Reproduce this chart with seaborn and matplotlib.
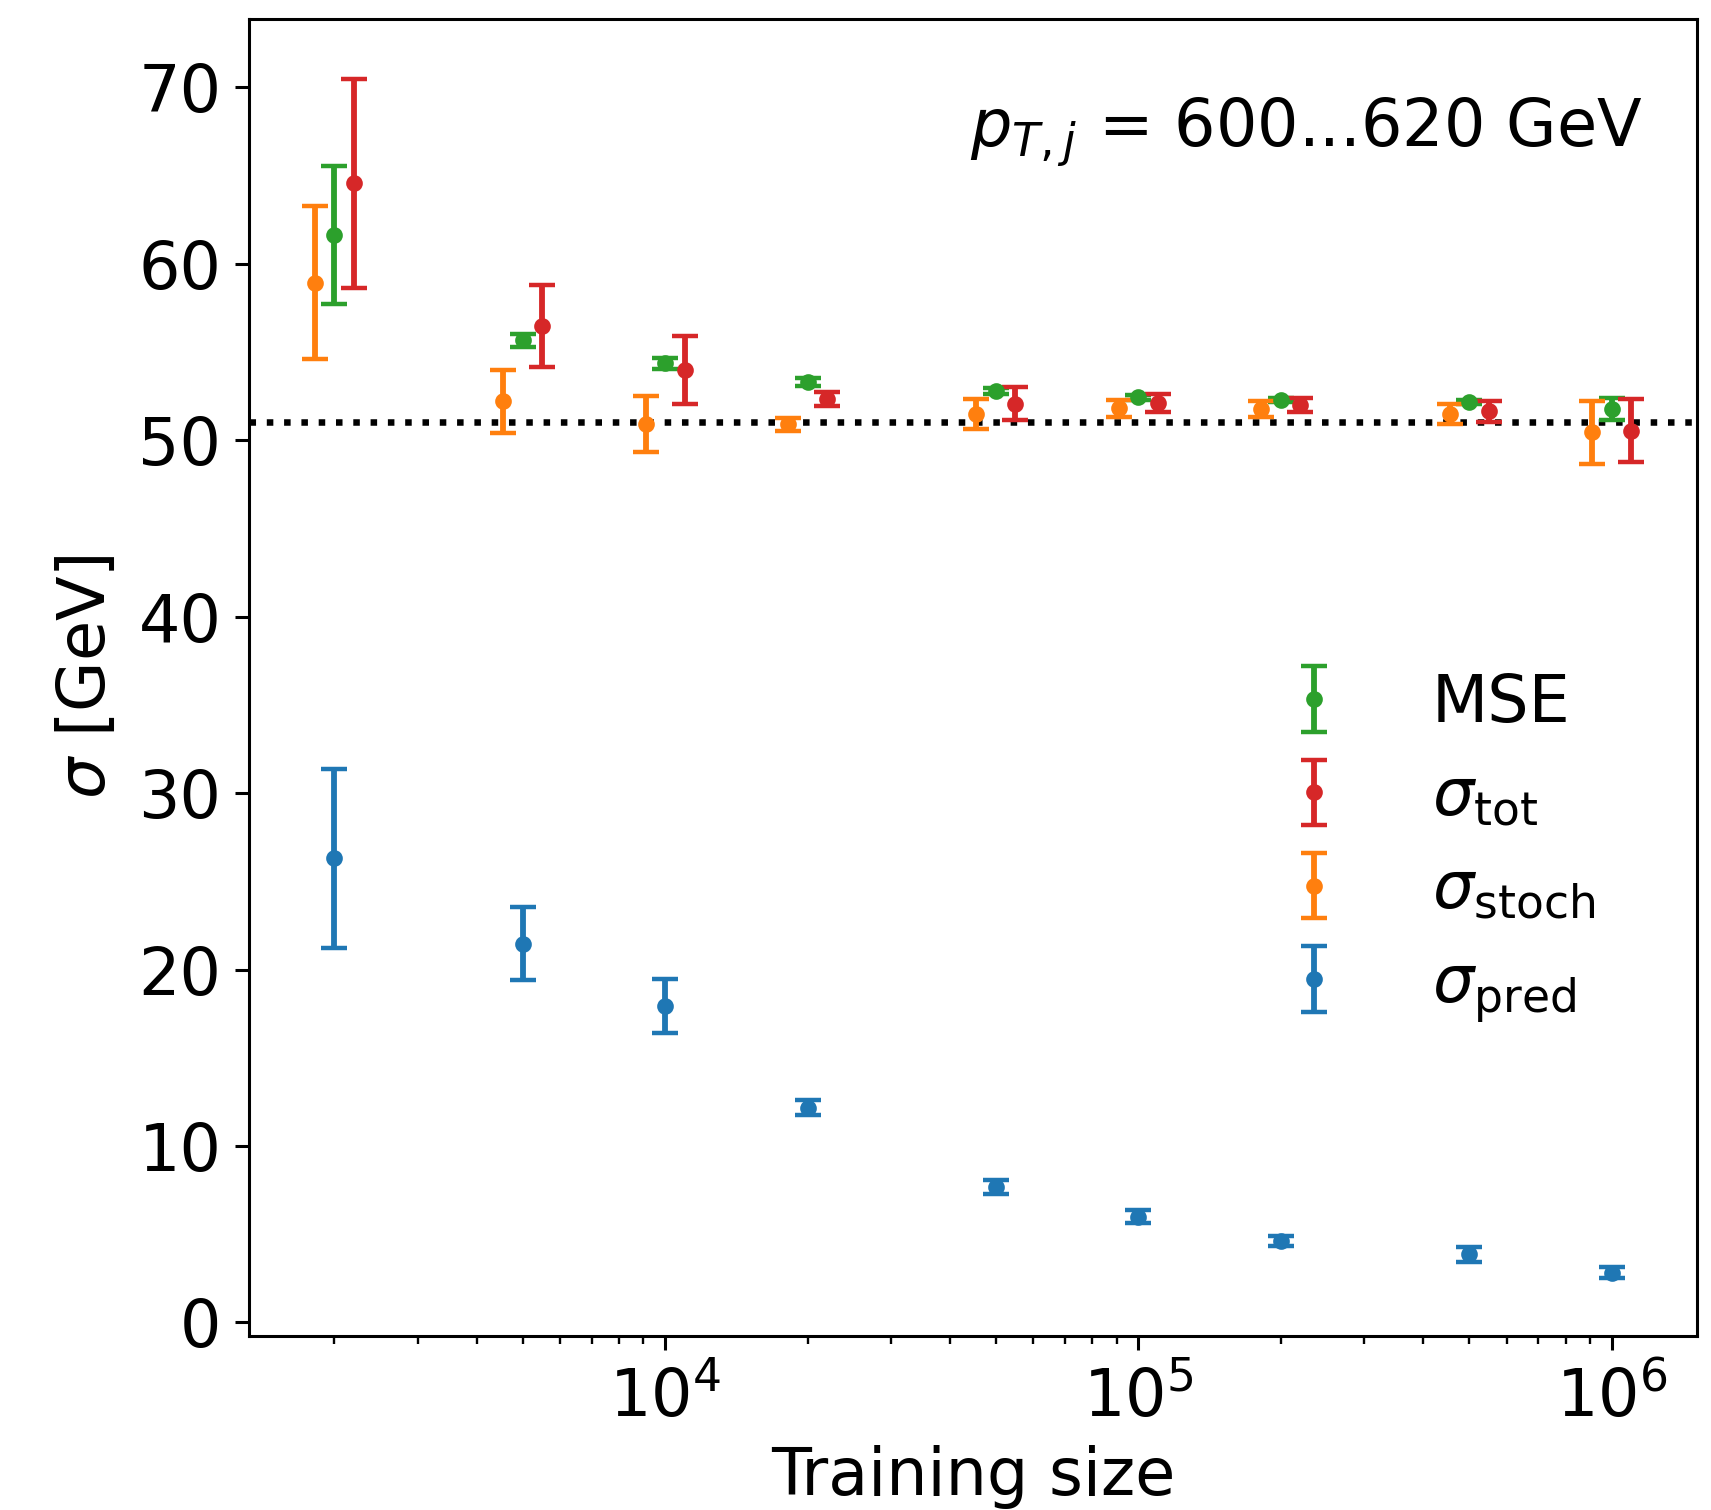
import numpy as np
import matplotlib
matplotlib.use("Agg")
import matplotlib.pyplot as plt
import seaborn as sns

# Training-set sizes
sizes = [2000, 5000, 10000, 20000, 50000, 100000, 200000, 500000, 1000000]

# Resolution estimates [GeV] with their uncertainties
mse = [61.65, 55.66, 54.35, 53.30, 52.78, 52.44, 52.30, 52.17, 51.78]
mse_err = [3.90, 0.35, 0.33, 0.20, 0.18, 0.15, 0.12, 0.12, 0.64]

sig_tot = [64.56, 56.46, 53.96, 52.33, 52.07, 52.12, 52.00, 51.65, 50.55]
sig_tot_err = [5.92, 2.33, 1.92, 0.38, 0.92, 0.52, 0.40, 0.60, 1.78]

sig_stoch = [58.94, 52.21, 50.91, 50.90, 51.48, 51.80, 51.78, 51.50, 50.45]
sig_stoch_err = [4.35, 1.78, 1.57, 0.36, 0.87, 0.50, 0.44, 0.58, 1.80]

sig_pred = [26.31, 21.47, 17.95, 12.16, 7.68, 6.00, 4.62, 3.86, 2.82]
sig_pred_err = [5.07, 2.05, 1.54, 0.43, 0.40, 0.38, 0.28, 0.42, 0.31]

reference_level = 51.05
labels = ["MSE", r"$\sigma_\mathrm{tot}$", r"$\sigma_\mathrm{stoch}$", r"$\sigma_\mathrm{pred}$"]

sns.set_style("ticks")
plt.rcParams.update({
    "font.family": ["DejaVu Sans"],
    "mathtext.fontset": "dejavusans",
    "font.size": 23.5,
    "text.color": "black",
    "axes.labelcolor": "black",
    "axes.linewidth": 1.1,
    "xtick.major.size": 4.9, "xtick.minor.size": 2.8,
    "ytick.major.size": 4.9, "ytick.minor.size": 2.8,
    "xtick.major.width": 1.1, "xtick.minor.width": 0.85,
    "ytick.major.width": 1.1,
    "xtick.major.pad": 6, "ytick.major.pad": 5,
    "axes.edgecolor": "black",
    "xtick.color": "black", "ytick.color": "black",
})

pal = sns.color_palette("tab10")
c_pred, c_stoch, c_mse, c_tot = pal[0], pal[1], pal[2], pal[3]

fig = plt.figure(figsize=(1711 / 200, 1510 / 200), dpi=200)
ax = fig.add_axes([0.1455, 0.1155, 0.9918 - 0.1455, 0.9877 - 0.1155])

x = np.array(sizes, dtype=float)
shift = 1.1
style = dict(fmt="o", markersize=5.0, elinewidth=2.1, capsize=4.7, capthick=1.6)

ax.axhline(reference_level, color="black", linestyle=":", linewidth=2.35, zorder=1)

h_mse = ax.errorbar(x, mse, yerr=mse_err, color=c_mse, **style)
h_tot = ax.errorbar(x * shift, sig_tot, yerr=sig_tot_err, color=c_tot, **style)
h_stoch = ax.errorbar(x / shift, sig_stoch, yerr=sig_stoch_err, color=c_stoch, **style)
h_pred = ax.errorbar(x, sig_pred, yerr=sig_pred_err, color=c_pred, **style)

ax.set_xscale("log")
ax.set_ylim(-0.75, 73.9)
ax.set_yticks(np.arange(0, 71, 10))
ax.set_xlabel("Training size", labelpad=5)
ax.set_ylabel(r"$\sigma$ [GeV]", labelpad=7)

for s in ax.spines.values():
    s.set_visible(True)

ax.text(0.962, 0.914, r"$p_{T,j}$ = 600...620 GeV", transform=ax.transAxes,
        ha="right", va="center")

leg = ax.legend([h_mse, h_tot, h_stoch, h_pred], labels, frameon=False,
                loc="center left", bbox_to_anchor=(0.65, 0.37),
                labelspacing=0.45, handletextpad=0.8)

fig.savefig("out.png", dpi=200)
